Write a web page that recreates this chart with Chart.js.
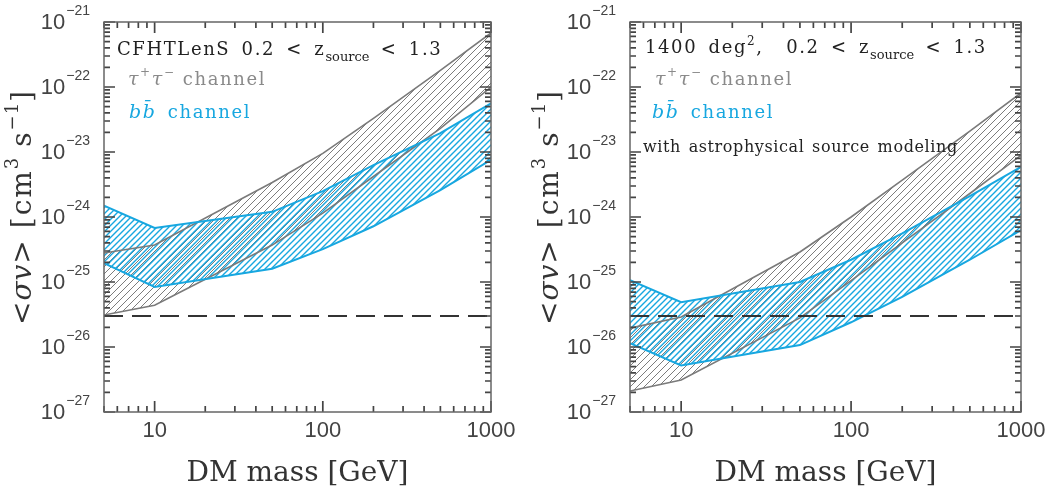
<!DOCTYPE html>
<html lang="en">
<head>
<meta charset="UTF-8">
<title>Dark matter annihilation cross-section limits</title>
<script src="https://cdn.jsdelivr.net/npm/chart.js@4.4.0/dist/chart.umd.min.js"></script>
<style>
  html, body { margin: 0; padding: 0; background: #fff; }
  #wrap { position: relative; width: 1055px; height: 492px; }
  #left { position: absolute; left: 0; top: 0; }
  #right { position: absolute; left: 527px; top: 0; }
</style>
</head>
<body>
<div id="wrap">
  <canvas id="left" width="527" height="492"></canvas>
  <canvas id="right" width="528" height="492"></canvas>
</div>
<script>
// DM mass grid [GeV]
var mass = [5, 10, 50, 100, 200, 500, 1000];

// left panel: CFHTLenS, <sigma v> in cm^3 s^-1
var tauUpperCFHT = [2.8e-25, 3.7e-25, 3.4e-24, 9.5e-24, 3.3e-23, 1.8e-22, 6.8e-22];
var tauLowerCFHT = [3.1e-26, 4.4e-26, 3.7e-25, 1.15e-24, 4.2e-24, 2.3e-23, 1.0e-22];
var bbUpperCFHT  = [1.5e-24, 6.8e-25, 1.2e-24, 2.5e-24, 6.3e-24, 1.95e-23, 5.6e-23];
var bbLowerCFHT  = [1.95e-25, 8.4e-26, 1.6e-25, 3.2e-25, 7.2e-25, 2.6e-24, 7.6e-24];

// right panel: 1400 deg^2 with source modeling
var tauUpper1400 = [1.95e-26, 2.9e-26, 2.9e-25, 1.0e-24, 3.7e-24, 2.1e-23, 8.1e-23];
var tauLower1400 = [2.1e-27, 3.1e-27, 2.8e-26, 1.05e-25, 4.0e-25, 2.3e-24, 8.9e-24];
var bbUpper1400  = [1.07e-25, 4.9e-26, 1.0e-25, 2.2e-25, 5.6e-25, 2.1e-24, 5.9e-24];
var bbLower1400  = [1.15e-26, 5.2e-27, 1.07e-26, 2.4e-26, 5.9e-26, 2.2e-25, 6.3e-25];

// thermal relic cross section (dashed)
var thermal = 3e-26;

var xTickLabels = [10, 100, 1000];
var yDecades = [-27, -26, -25, -24, -23, -22, -21];
var minorSteps = [2, 3, 4, 5, 6, 7, 8, 9];

var BLUE = '#17a7e0';
var GREY = '#7a7a7a';
var SERIF = '"DejaVu Serif"';
var SANS = '"Liberation Sans"';

// tick marks: {v, major}
var xMarks = [];
[1, 10, 100].forEach(function (d) {
  xMarks.push({v: d, major: true});
  minorSteps.forEach(function (m) { xMarks.push({v: m * d, major: false}); });
});
xMarks.push({v: 1000, major: true});
xMarks = xMarks.filter(function (t) { return t.v >= 5 && t.v <= 1000; });

var yMarks = [];
yDecades.forEach(function (k) {
  yMarks.push({v: Math.pow(10, k), major: true});
  if (k < -21) minorSteps.forEach(function (m) { yMarks.push({v: m * Math.pow(10, k), major: false}); });
});

function hatch(color, gap, width) {
  var c = document.createElement('canvas');
  c.width = gap; c.height = gap;
  var g = c.getContext('2d');
  g.strokeStyle = color;
  g.lineWidth = width;
  g.beginPath();
  g.moveTo(0, gap); g.lineTo(gap, 0);
  g.moveTo(-1, 1); g.lineTo(1, -1);
  g.moveTo(gap - 1, gap + 1); g.lineTo(gap + 1, gap - 1);
  g.stroke();
  return g.createPattern(c, 'repeat');
}

function pts(vals) {
  return mass.map(function (m, i) { return {x: m, y: vals[i]}; });
}

function drawRich(ctx, x, y, segs) {
  segs.forEach(function (s) {
    ctx.font = s.font;
    ctx.fillStyle = s.color;
    ctx.letterSpacing = (s.ls || 0) + 'px';
    ctx.wordSpacing = (s.ws || 0) + 'px';
    ctx.fillText(s.text, x, y + (s.dy || 0));
    x += ctx.measureText(s.text).width;
  });
  ctx.letterSpacing = '0px';
  ctx.wordSpacing = '0px';
}

function richWidth(ctx, segs) {
  var w = 0;
  segs.forEach(function (s) {
    ctx.font = s.font;
    ctx.letterSpacing = (s.ls || 0) + 'px';
    ctx.wordSpacing = (s.ws || 0) + 'px';
    w += ctx.measureText(s.text).width;
  });
  ctx.letterSpacing = '0px';
  ctx.wordSpacing = '0px';
  return w;
}

function seg(text, opt) {
  opt = opt || {};
  return {
    text: text,
    font: (opt.italic ? 'italic ' : '') + (opt.size || 18) + 'px ' + (opt.family || SERIF),
    color: opt.color || '#222',
    dy: opt.dy || 0,
    ls: opt.ls != null ? opt.ls : 1.6,
    ws: opt.ws != null ? opt.ws : 4
  };
}

function channelLines() {
  var g = '#8a8a8a';
  return [
    [seg('\u03c4', {italic: true, size: 19, color: g}),
     seg('+', {size: 12, dy: -9, color: g}),
     seg('\u03c4', {italic: true, size: 19, color: g}),
     seg('\u2212', {size: 12, dy: -9, color: g}),
     seg(' channel', {color: g, ws: 6})],
    [seg('bb\u0304', {italic: true, size: 19, color: BLUE}),
     seg(' channel', {color: BLUE})]
  ];
}

var titleSegs = [
  seg('<', {size: 28, ls: 1, ws: 0, color: '#333'}),
  seg('\u03c3v', {size: 28, italic: true, ls: 1, ws: 0, color: '#333'}),
  seg('>', {size: 28, ls: 1, ws: 0, color: '#333'}),
  seg(' [cm', {size: 28, ls: 2, ws: 4, color: '#333'}),
  seg('3', {size: 18, dy: -13, ls: 0, ws: 0, color: '#333'}),
  seg(' s', {size: 28, ls: 2, ws: 6, color: '#333'}),
  seg('\u22121', {size: 18, dy: -13, ls: 1, ws: 0, color: '#333'}),
  seg(']', {size: 28, ls: 0, ws: 0, color: '#333'})
];

var panelDeco = {
  id: 'panelDeco',
  afterDraw: function (chart, args, opts) {
    var ctx = chart.ctx, a = chart.chartArea;
    var xs = chart.scales.x, ys = chart.scales.y;
    ctx.save();
    ctx.setLineDash([]);

    // inward tick marks on all four sides
    ctx.strokeStyle = '#444';
    ctx.lineWidth = 1.7;
    ctx.beginPath();
    for (var i = 0; i < xMarks.length; i++) {
      var px = xs.getPixelForValue(xMarks[i].v);
      var lx = xMarks[i].major ? 11 : 6;
      ctx.moveTo(px, a.bottom);
      ctx.lineTo(px, a.bottom - lx);
      ctx.moveTo(px, a.top);
      ctx.lineTo(px, a.top + lx);
    }
    for (var j = 0; j < yMarks.length; j++) {
      var py = ys.getPixelForValue(yMarks[j].v);
      var ly = yMarks[j].major ? 11 : 6;
      ctx.moveTo(a.left, py);
      ctx.lineTo(a.left + ly, py);
      ctx.moveTo(a.right, py);
      ctx.lineTo(a.right - ly, py);
    }
    ctx.stroke();

    // frame
    ctx.strokeStyle = '#666';
    ctx.lineWidth = 1.5;
    ctx.strokeRect(a.left, a.top, a.right - a.left, a.bottom - a.top);

    // y tick labels 10^k
    ctx.fillStyle = '#444';
    ctx.textAlign = 'left';
    yDecades.forEach(function (k) {
      var py = ys.getPixelForValue(Math.pow(10, k));
      var e = '\u2212' + Math.abs(k);
      ctx.font = '14px ' + SANS;
      var we = ctx.measureText(e).width;
      ctx.font = '22px ' + SANS;
      var wb = ctx.measureText('10').width;
      var xr = a.left - 14;
      ctx.textBaseline = 'middle';
      ctx.fillText('10', xr - we - wb - 1, py + 1);
      ctx.textBaseline = 'alphabetic';
      ctx.font = '14px ' + SANS;
      ctx.fillText(e, xr - we, py - 7);
    });

    // annotations
    ctx.textBaseline = 'alphabetic';
    opts.notes.forEach(function (n) {
      drawRich(ctx, a.left + n.dx, a.top + n.dy, n.segs);
    });

    // y axis title, rotated
    var tw = richWidth(ctx, titleSegs);
    ctx.translate(31, a.top + 186);
    ctx.rotate(-Math.PI / 2);
    drawRich(ctx, -tw / 2, 0, titleSegs);
    ctx.restore();
  }
};

function makePanel(id, d, notes, yWidth, padRight) {
  var blueHatch = hatch(BLUE, 6, 1.4);
  var greyHatch = hatch('#7c7c7c', 7, 1);
  return new Chart(document.getElementById(id), {
    type: 'line',
    data: {
      datasets: [
        {label: 'thermal relic', data: [{x: 5, y: thermal}, {x: 1000, y: thermal}],
         borderColor: '#333', borderWidth: 2, borderDash: [19, 9], pointRadius: 0, fill: false},
        {label: 'bb upper', data: pts(d.bbUpper), borderColor: BLUE, borderWidth: 2,
         pointRadius: 0, fill: '+1', backgroundColor: blueHatch},
        {label: 'bb lower', data: pts(d.bbLower), borderColor: BLUE, borderWidth: 2,
         pointRadius: 0, fill: false},
        {label: 'tau upper', data: pts(d.tauUpper), borderColor: GREY, borderWidth: 1.6,
         pointRadius: 0, fill: '+1', backgroundColor: greyHatch},
        {label: 'tau lower', data: pts(d.tauLower), borderColor: GREY, borderWidth: 1.6,
         pointRadius: 0, fill: false}
      ]
    },
    options: {
      responsive: false,
      animation: false,
      layout: {padding: {left: 0, right: padRight, top: 22, bottom: 0}},
      plugins: {
        legend: {display: false},
        tooltip: {enabled: false},
        filler: {drawTime: 'beforeDatasetsDraw'},
        panelDeco: {notes: notes}
      },
      scales: {
        x: {
          type: 'logarithmic', min: 5, max: 1000,
          afterFit: function (s) { s.height = 80; },
          grid: {display: false, drawTicks: false},
          border: {display: false},
          ticks: {
            autoSkip: false, maxRotation: 0, padding: 6, color: '#444',
            font: {family: 'Liberation Sans', size: 22},
            callback: function (v) { return xTickLabels.indexOf(v) >= 0 ? String(v) : ''; }
          },
          title: {display: true, text: 'DM mass [GeV]', color: '#333',
                  font: {family: 'DejaVu Serif', size: 28}, padding: {top: 0, bottom: 1}}
        },
        y: {
          type: 'logarithmic', min: 1e-27, max: 1e-21,
          afterFit: function (s) { s.width = yWidth; },
          grid: {display: false, drawTicks: false},
          border: {display: false},
          ticks: {display: false}
        }
      }
    },
    plugins: [panelDeco]
  });
}

var lines = channelLines();
makePanel('left',
  {tauUpper: tauUpperCFHT, tauLower: tauLowerCFHT, bbUpper: bbUpperCFHT, bbLower: bbLowerCFHT},
  [
    {dx: 13, dy: 33, segs: [seg('CFHTLenS 0.2 < z'), seg('source', {size: 13, dy: 6, ls: 0, ws: 0}), seg(' < 1.3')]},
    {dx: 24, dy: 63, segs: lines[0]},
    {dx: 25, dy: 96, segs: lines[1]}
  ], 104, 36);

makePanel('right',
  {tauUpper: tauUpper1400, tauLower: tauLower1400, bbUpper: bbUpper1400, bbLower: bbLower1400},
  [
    {dx: 15, dy: 31, segs: [seg('1400 deg'), seg('2', {size: 12, dy: -8, ws: 0}), seg(',  0.2 < z'),
                            seg('source', {size: 13, dy: 6, ls: 0, ws: 0}), seg(' < 1.3')]},
    {dx: 25, dy: 63, segs: lines[0]},
    {dx: 22, dy: 96, segs: lines[1]},
    {dx: 13, dy: 130, segs: [seg('with astrophysical source modeling', {size: 16, ls: 0.6, ws: 2})]}
  ], 103, 34);
</script>
</body>
</html>
